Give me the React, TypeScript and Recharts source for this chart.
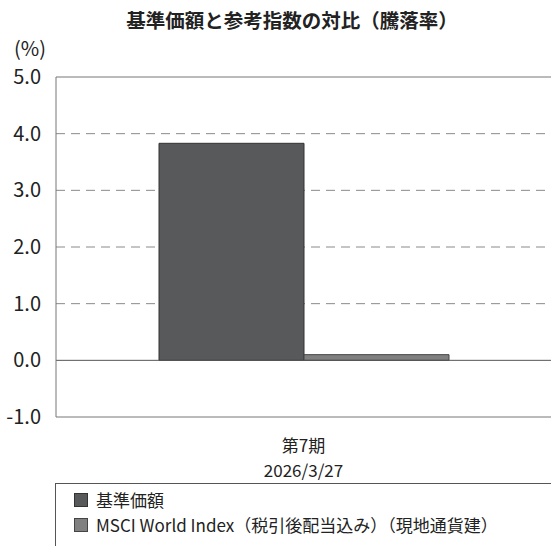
import { Bar, BarChart, CartesianGrid, ReferenceLine, XAxis, YAxis } from 'recharts'

const periods = ['第7期\n2026/3/27']
const fundReturn = [3.83]
const indexReturn = [0.1]
const yTicks = [-1, 0, 1, 2, 3, 4, 5]
const gridValues = [1, 2, 3, 4]

const series = [
  { key: 'fund', name: '基準価額', fill: '#58595b', stroke: '#333333' },
  { key: 'index', name: 'MSCI World Index（税引後配当込み）（現地通貨建）', fill: '#808080', stroke: '#444444' },
]

const data = periods.map((p, i) => ({ period: p, fund: fundReturn[i], index: indexReturn[i] }))

const FONT = '"Noto Sans CJK JP", "Noto Sans", sans-serif'

/** Two-line category label under the axis, one <text> per line. */
function PeriodTick({ x, y, payload }: any) {
  const lines = String(payload.value).split('\n')
  return (
    <g>
      {lines.map((l, i) => (
        <text key={i} x={x} y={y + 27 + i * 25} textAnchor="middle" fontFamily={FONT} fontSize={17} fill="#222">
          {l}
        </text>
      ))}
    </g>
  )
}

export default function App() {
  return (
    <div style={{ position: 'absolute', left: 0, top: 0, width: 551, height: 546, background: '#fff', fontFamily: FONT, overflow: 'hidden' }}>
      <div style={{ position: 'absolute', left: 0, width: 584, top: 5, textAlign: 'center', fontSize: 19.5, fontWeight: 700, color: '#222', whiteSpace: 'nowrap' }}>
        基準価額と参考指数の対比（騰落率）
      </div>
      <div style={{ position: 'absolute', left: 14, top: 33, fontSize: 20, color: '#222' }}>(%)</div>

      <BarChart
        width={551}
        height={546}
        data={data}
        margin={{ top: 77, right: 0, left: 0, bottom: 79 }}
        barCategoryGap={103}
        barGap={0}
      >
        <CartesianGrid vertical={false} horizontalValues={gridValues} stroke="#8a8a8a" strokeDasharray="9 6" />
        <XAxis
          dataKey="period"
          height={50}
          axisLine={{ stroke: '#777' }}
          tickLine={false}
          tick={<PeriodTick />}
          interval={0}
        />
        <YAxis
          width={56}
          domain={[-1, 5]}
          ticks={yTicks}
          interval={0}
          axisLine={{ stroke: '#777' }}
          tickLine={false}
          tickMargin={9}
          tickFormatter={(v: number) => v.toFixed(1)}
          tick={{ fontFamily: FONT, fontSize: 20, fill: '#222' }}
        />
        <ReferenceLine y={5} stroke="#777" />
        {series.map((s) => (
          <Bar key={s.key} dataKey={s.key} name={s.name} fill={s.fill} stroke={s.stroke} strokeWidth={1} isAnimationActive={false} />
        ))}
        <ReferenceLine y={0} stroke="#555" />
      </BarChart>

      <div style={{ position: 'absolute', left: 55, top: 483, width: 520, height: 80, borderLeft: '1px solid #555', borderTop: '1px solid #555', paddingLeft: 18, paddingTop: 3 }}>
        {series.map((s) => (
          <div key={s.key} style={{ display: 'flex', alignItems: 'center', height: 25, lineHeight: '25px', fontSize: 17, color: '#222', whiteSpace: 'nowrap' }}>
            <span style={{ display: 'inline-block', width: 12, height: 12, background: s.fill, border: `1px solid ${s.stroke}`, marginRight: 8, flexShrink: 0 }} />
            {s.name}
          </div>
        ))}
      </div>
    </div>
  )
}
